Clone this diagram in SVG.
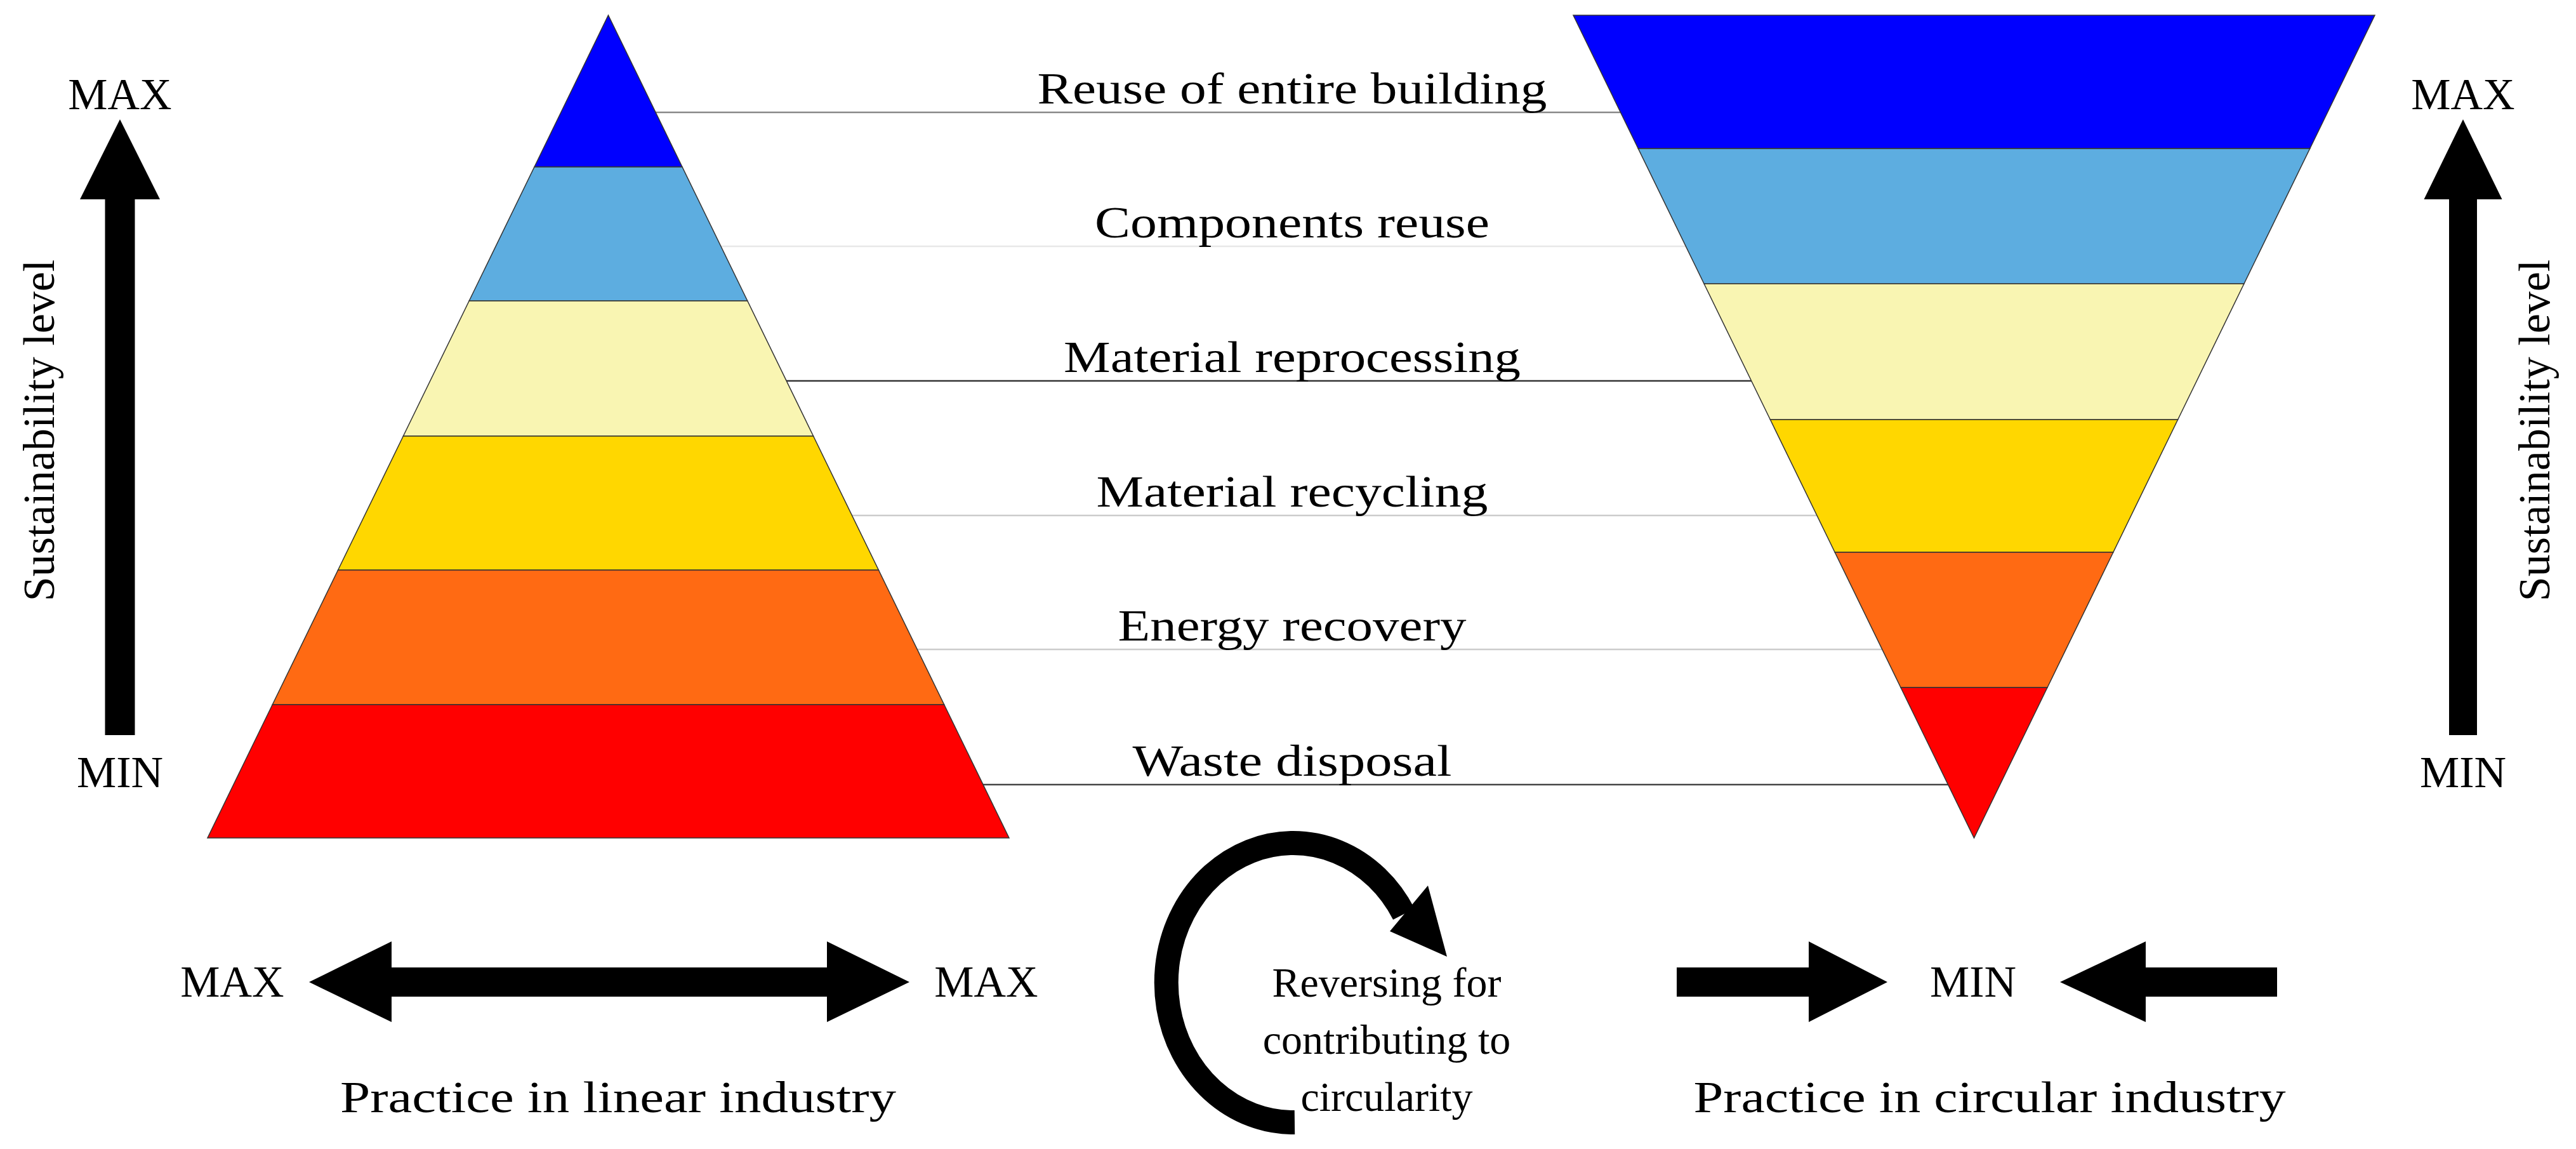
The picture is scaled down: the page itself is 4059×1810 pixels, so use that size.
<svg xmlns="http://www.w3.org/2000/svg" width="4059" height="1810" viewBox="0 0 4059 1810">
<style>
text{font-family:"Liberation Serif","DejaVu Serif",serif;fill:#000}
.lbl{font-size:70px;text-anchor:middle}
.band{stroke:#333;stroke-width:1.5}
.ln{stroke-width:2.5;fill:none}
.arw{fill:#000}
</style>
<rect width="4059" height="1810" fill="#fff"/>
<g id="connectors">
<line class="ln" x1="1033" y1="177" x2="2553" y2="177" stroke="#888"/>
<line class="ln" x1="1136" y1="388" x2="2657" y2="388" stroke="#e8e8e8"/>
<line class="ln" x1="1239" y1="600" x2="2760" y2="600" stroke="#333"/>
<line class="ln" x1="1342" y1="812" x2="2863" y2="812" stroke="#ccc"/>
<line class="ln" x1="1445" y1="1023" x2="2966" y2="1023" stroke="#ccc"/>
<line class="ln" x1="1549" y1="1236" x2="3070" y2="1236" stroke="#444"/>
</g>
<g id="linear-pyramid">
<polygon class="band" fill="#0000ff" points="958.5,24 1075,263 842,263"/>
<polygon class="band" fill="#5dade0" points="842,263 1075,263 1177.8,474 739.2,474"/>
<polygon class="band" fill="#f9f5b2" points="739.2,474 1177.8,474 1281.6,687 635.4,687"/>
<polygon class="band" fill="#ffd700" points="635.4,687 1281.6,687 1384.4,898 532.6,898"/>
<polygon class="band" fill="#ff6a13" points="532.6,898 1384.4,898 1487.7,1110 429.3,1110"/>
<polygon class="band" fill="#ff0000" points="429.3,1110 1487.7,1110 1590,1320 327,1320"/>
</g>
<g id="circular-pyramid">
<polygon class="band" fill="#0000ff" points="2479,24 3742,24 3639.7,234 2581.3,234"/>
<polygon class="band" fill="#5dade0" points="2581.3,234 3639.7,234 3535.9,447 2685.1,447"/>
<polygon class="band" fill="#f9f5b2" points="2685.1,447 3535.9,447 3431.6,661 2789.4,661"/>
<polygon class="band" fill="#ffd700" points="2789.4,661 3431.6,661 3329.8,870 2891.2,870"/>
<polygon class="band" fill="#ff6a13" points="2891.2,870 3329.8,870 3226,1083 2995,1083"/>
<polygon class="band" fill="#ff0000" points="2995,1083 3226,1083 3110.5,1320"/>
</g>
<g id="labels">
<text class="lbl" x="2036" y="163" textLength="803" lengthAdjust="spacingAndGlyphs">Reuse of entire building</text>
<text class="lbl" x="2036" y="374" textLength="622" lengthAdjust="spacingAndGlyphs">Components reuse</text>
<text class="lbl" x="2036" y="586" textLength="720" lengthAdjust="spacingAndGlyphs">Material reprocessing</text>
<text class="lbl" x="2036" y="798" textLength="617" lengthAdjust="spacingAndGlyphs">Material recycling</text>
<text class="lbl" x="2036" y="1009" textLength="549" lengthAdjust="spacingAndGlyphs">Energy recovery</text>
<text class="lbl" x="2036" y="1222" textLength="503" lengthAdjust="spacingAndGlyphs">Waste disposal</text>
</g>
<g id="left-scale">
<polygon class="arw" points="189,188 252,314 212.5,314 212.5,1158 165.5,1158 165.5,314 126,314"/>
<text class="lbl" x="189" y="172">MAX</text>
<text class="lbl" x="189" y="1240">MIN</text>
<text class="lbl" transform="translate(85,678) rotate(-90)">Sustainability level</text>
</g>
<g id="right-scale">
<polygon class="arw" points="3881,188 3942.5,314 3903,314 3903,1158 3859,1158 3859,314 3819.5,314"/>
<text class="lbl" x="3881" y="172">MAX</text>
<text class="lbl" x="3881" y="1240">MIN</text>
<text class="lbl" transform="translate(4017,678) rotate(-90)">Sustainability level</text>
</g>
<g id="linear-practice">
<polygon class="arw" points="487,1547 617,1483 617,1524 1303,1524 1303,1483 1433,1547 1303,1610 1303,1570 617,1570 617,1610"/>
<text class="lbl" x="366" y="1570">MAX</text>
<text class="lbl" x="1554" y="1570">MAX</text>
<text class="lbl" x="974" y="1752" textLength="876" lengthAdjust="spacingAndGlyphs">Practice in linear industry</text>
</g>
<g id="reversing">
<path d="M2040,1768 A200,220 0 1 1 2212,1440" fill="none" stroke="#000" stroke-width="38"/>
<polygon class="arw" points="2190,1467 2250,1395 2280,1507"/>
<text class="lbl" x="2185" y="1570" style="font-size:66px">Reversing for</text>
<text class="lbl" x="2185" y="1660" style="font-size:66px">contributing to</text>
<text class="lbl" x="2185" y="1750" style="font-size:66px">circularity</text>
</g>
<g id="circular-practice">
<polygon class="arw" points="2642,1524 2850,1524 2850,1483 2974,1547 2850,1610 2850,1570 2642,1570"/>
<polygon class="arw" points="3588,1524 3381,1524 3381,1483 3246,1547 3381,1610 3381,1570 3588,1570"/>
<text class="lbl" x="3109" y="1570">MIN</text>
<text class="lbl" x="3135" y="1752" textLength="933" lengthAdjust="spacingAndGlyphs">Practice in circular industry</text>
</g>
</svg>
